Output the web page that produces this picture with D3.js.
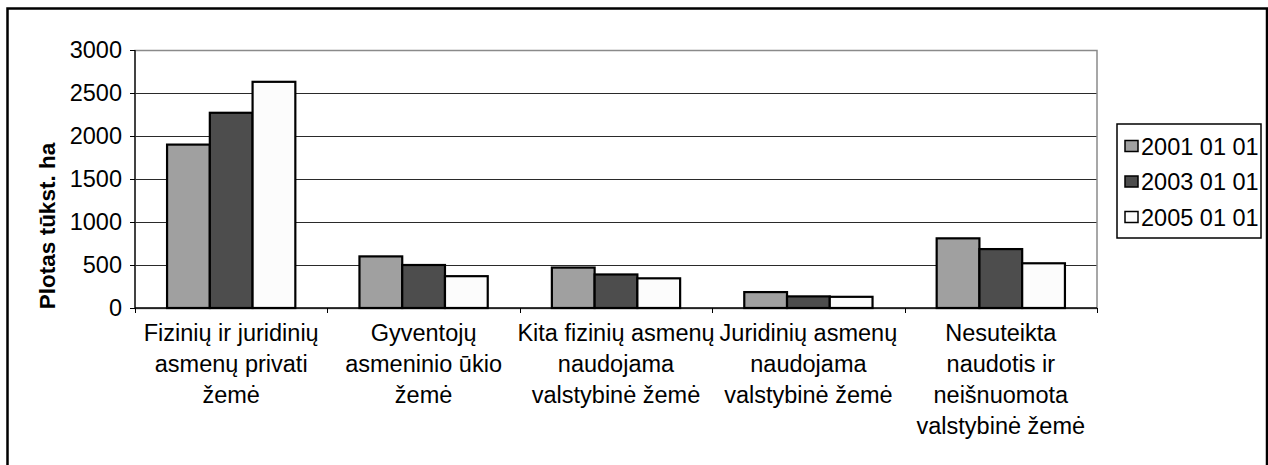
<!DOCTYPE html>
<html>
<head>
<meta charset="utf-8">
<script src="https://cdnjs.cloudflare.com/ajax/libs/d3/7.8.5/d3.min.js"></script>
<style>
	html, body { margin: 0; padding: 0; background: #fff; }
	svg { display: block; font-family: "Liberation Sans", Arial, sans-serif; }
</style>
</head>
<body>
<div id="chart"></div>
<script>
// categories (line breaks as in the original labels)
const categories = [
	"Fizinių ir juridinių\nasmenų privati\nžemė",
	"Gyventojų\nasmeninio ūkio\nžemė",
	"Kita fizinių asmenų\nnaudojama\nvalstybinė žemė",
	"Juridinių asmenų\nnaudojama\nvalstybinė žemė",
	"Nesuteikta\nnaudotis ir\nneišnuomota\nvalstybinė žemė"
];

const seriesNames = ["2001 01 01", "2003 01 01", "2005 01 01"];
const values2001 = [1900, 600, 470, 185, 810];
const values2003 = [2270, 500, 390, 135, 685];
const values2005 = [2630, 370, 345, 130, 520];
const yTicks = [0, 500, 1000, 1500, 2000, 2500, 3000];
const yTitle = "Plotas tūkst. ha";

const seriesColors = ["#a0a0a0", "#4d4d4d", "#fcfcfc"];

const width = 1268, height = 465;
const fontSize = 23.5;
// plot area
const margin = {left: 135, top: 50, right: 171, bottom: 157};
const plotW = width - margin.left - margin.right,
	plotH = height - margin.top - margin.bottom;

const series = [values2001, values2003, values2005].map(function (v, i) {
	return {name: seriesNames[i], color: seriesColors[i], values: v};
});

const svg = d3.select("#chart").append("svg")
	.attr("width", width)
	.attr("height", height);

// outer frame
svg.append("rect")
	.attr("x", 7.5).attr("y", 8.5)
	.attr("width", 1259.5).attr("height", 520)
	.attr("fill", "none")
	.attr("stroke", "#000")
	.attr("stroke-width", 2.5);

const g = svg.append("g")
	.attr("transform", "translate(" + margin.left + "," + margin.top + ")");

const x0 = d3.scaleBand()
	.domain(d3.range(categories.length))
	.range([0, plotW])
	.paddingInner(0)
	.paddingOuter(0);

// excel style gap width 150%
const barW = x0.bandwidth() / (series.length + 1.5);
const groupOffset = (x0.bandwidth() - barW * series.length) / 2;

const y = d3.scaleLinear()
	.domain([0, 3000])
	.range([plotH, 0]);

// gridlines
g.append("g")
	.selectAll("line")
	.data(yTicks.filter(function (d) { return d > 0; }))
	.join("line")
	.attr("x1", 0).attr("x2", plotW)
	.attr("y1", function (d) { return Math.round(y(d)) + 0.5; })
	.attr("y2", function (d) { return Math.round(y(d)) + 0.5; })
	.attr("stroke", "#2a2a2a")
	.attr("stroke-width", 1);

// plot area border (grey)
g.append("rect")
	.attr("x", 0).attr("y", Math.round(y(3000)) + 0.5)
	.attr("width", plotW).attr("height", plotH)
	.attr("fill", "none")
	.attr("stroke", "#8a8a8a")
	.attr("stroke-width", 1.5);

// bars
series.forEach(function (s, si) {
	g.append("g")
		.selectAll("rect")
		.data(s.values)
		.join("rect")
		.attr("x", function (d, i) { return x0(i) + groupOffset + si * barW; })
		.attr("y", function (d) { return y(d); })
		.attr("width", barW)
		.attr("height", function (d) { return y(0) - y(d); })
		.attr("fill", s.color)
		.attr("stroke", "#000")
		.attr("stroke-width", 2.2);
});

// y axis
const yAxis = d3.axisLeft(y)
	.tickValues(yTicks)
	.tickSize(5)
	.tickPadding(8)
	.tickFormat(d3.format("d"));

const gY = g.append("g")
	.attr("class", "axis axis--y")
	.call(yAxis);
gY.select(".domain").attr("stroke", "#000").attr("stroke-width", 1.2)
	.attr("d", "M0," + y(3000) + "V" + y(0));
gY.selectAll(".tick line").attr("stroke", "#000");
gY.selectAll(".tick text")
	.attr("font-size", fontSize)
	.attr("fill", "#000")
	.attr("font-family", "Liberation Sans, Arial, sans-serif");

// x axis line with ticks on category boundaries
g.append("line")
	.attr("x1", 0).attr("x2", plotW)
	.attr("y1", plotH).attr("y2", plotH)
	.attr("stroke", "#000")
	.attr("stroke-width", 1.5);

g.append("g")
	.selectAll("line")
	.data(d3.range(categories.length + 1))
	.join("line")
	.attr("x1", function (d) { return Math.round(d * x0.step()) + 0.5; })
	.attr("x2", function (d) { return Math.round(d * x0.step()) + 0.5; })
	.attr("y1", plotH).attr("y2", plotH + 5)
	.attr("stroke", "#000");

// category labels
const lineH = 31;
g.append("g")
	.selectAll("text")
	.data(categories)
	.join("text")
	.attr("text-anchor", "middle")
	.attr("font-size", fontSize)
	.attr("fill", "#000")
	.each(function (d, i) {
		const t = d3.select(this);
		d.split("\n").forEach(function (line, li) {
			t.append("tspan")
				.attr("x", x0(i) + x0.bandwidth() / 2)
				.attr("y", plotH + 33 + li * lineH)
				.text(line);
		});
	});

// y axis title
svg.append("text")
	.attr("transform", "translate(55," + 226 + ") rotate(-90)")
	.attr("text-anchor", "middle")
	.attr("font-size", 22.5)
	.attr("font-weight", "bold")
	.attr("fill", "#000")
	.text(yTitle);

// legend
const legend = svg.append("g")
	.attr("transform", "translate(1117,124)");

legend.append("rect")
	.attr("x", 0).attr("y", 0)
	.attr("width", 144).attr("height", 114)
	.attr("fill", "#fff")
	.attr("stroke", "#000")
	.attr("stroke-width", 1.5);

const items = legend.selectAll("g.item")
	.data(series)
	.join("g")
	.attr("class", "item")
	.attr("transform", function (d, i) { return "translate(0," + (22 + i * 35.5) + ")"; });

items.append("rect")
	.attr("x", 8).attr("y", -5.5)
	.attr("width", 13).attr("height", 11)
	.attr("fill", function (d) { return d.color; })
	.attr("stroke", "#000")
	.attr("stroke-width", 1.5);

items.append("text")
	.attr("x", 24)
	.attr("y", 8.5)
	.attr("font-size", fontSize)
	.attr("fill", "#000")
	.text(function (d) { return d.name; });
</script>
</body>
</html>
